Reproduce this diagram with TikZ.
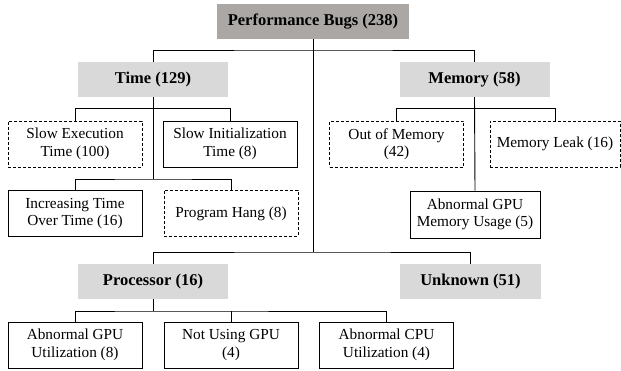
\documentclass[tikz,border=0pt]{standalone}
\usepackage{fontspec}
\setmainfont{Liberation Serif}
\usepackage{tikz}
\usetikzlibrary{positioning,calc}
\definecolor{rootgray}{HTML}{ABA7A5}
\definecolor{catgray}{HTML}{D9D9D9}

\begin{document}
\begin{tikzpicture}[
    x=1pt, y=-1pt,
    rootbox/.style={rectangle, fill=rootgray, minimum width=192pt, minimum height=35pt, font=\fontsize{16.5}{19}\selectfont\bfseries},
    catbox/.style={rectangle, fill=catgray, minimum width=150pt, minimum height=35pt, font=\fontsize{16.5}{19}\selectfont\bfseries},
    leaf/.style={rectangle, draw=black, line width=0.9pt, minimum width=134pt, minimum height=46pt, inner sep=1pt, align=center, font=\fontsize{15.3}{17.5}\selectfont},
    dleaf/.style={leaf, dash pattern=on 3pt off 2pt},
    link/.style={draw=black, line width=0.9pt}
]
    \useasboundingbox (0,0) rectangle (621,371);

    % Root
    \node[rootbox] (root) at (313,21.5) {Performance Bugs (238)};

    % Categories
    \node[catbox] (time) at (153,79.5) {Time (129)};
    \node[catbox] (mem) at (474.5,79.5) {Memory (58)};
    \node[catbox] (proc) at (153,281.5) {Processor (16)};
    \node[catbox, minimum width=141pt] (unk) at (470.5,281.5) {Unknown (51)};

    % Time leaves
    \node[dleaf] (t1) at (75,144) {Slow Execution\\Time (100)};
    \node[leaf] (t2) at (230,144) {Slow Initialization\\Time (8)};
    \node[leaf] (t3) at (75,213.5) {Increasing Time\\Over Time (16)};
    \node[dleaf] (t4) at (231,213.5) {Program Hang (8)};

    % Memory leaves
    \node[dleaf] (m1) at (396.5,144) {Out of Memory\\(42)};
    \node[dleaf, minimum width=130pt] (m2) at (555,144) {Memory Leak (16)};
    \node[leaf, minimum width=130pt, minimum height=47pt] (m3) at (475,214.5) {Abnormal GPU\\Memory Usage (5)};

    % Processor leaves
    \node[leaf] (p1) at (75,345) {Abnormal GPU\\Utilization (8)};
    \node[leaf] (p2) at (231,345) {Not Using GPU\\(4)};
    \node[leaf] (p3) at (386.5,345) {Abnormal CPU\\Utilization (4)};

    % Junctions
    \coordinate (h1) at (313,50);
    \coordinate (h0) at (313,252);
    \coordinate (h2) at (153,108.5);
    \coordinate (h3) at (153,179);
    \coordinate (h4) at (474.5,108.5);
    \coordinate (h5) at (153,311);

    % Links - root
    \draw[link] (root.south) -- (h0);
    \draw[link] (time.north) |- (h1) -| (mem.north);
    \draw[link] (proc.north) |- (h0) -| (unk.north);

    % Links - time
    \draw[link] (time.south) -- (h3);
    \draw[link] (t1.north) |- (h2) -| (t2.north);
    \draw[link] (t3.north) |- (h3) -| (t4.north);

    % Links - memory
    \draw[link] (mem.south) -- (m3.north);
    \draw[link] (m1.north) |- (h4) -| (m2.north);

    % Links - processor
    \draw[link] (proc.south) -- (h5);
    \draw[link] (p1.north) |- (h5) -| (p3.north);
    \draw[link] (p2.north) -- (p2.north |- h5);
\end{tikzpicture}
\end{document}
